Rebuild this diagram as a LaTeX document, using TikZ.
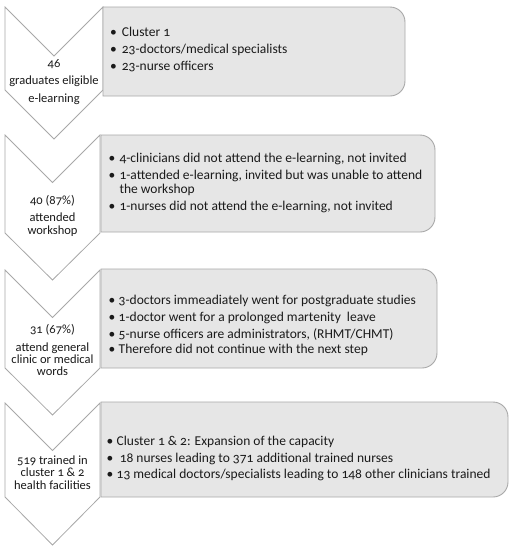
\documentclass[tikz,border=0pt]{standalone}
\usepackage{fontspec}
\setmainfont{Carlito}[Numbers=OldStyle]
\definecolor{boxfill}{HTML}{E6E6E6}
\definecolor{boxline}{HTML}{A8A8A8}
\definecolor{chevline}{HTML}{A8A8A8}
\definecolor{txt}{HTML}{1A1A1A}
\begin{document}
\begin{tikzpicture}[x=1pt,y=-1pt,
  chev/.style={draw=chevline,fill=white,line width=0.8pt,line join=miter},
  infobox/.style={draw=boxline,fill=boxfill,line width=0.9pt},
  chevtext/.style={inner sep=0pt,anchor=mid,text=txt,font=\fontsize{12.5}{14}\selectfont},
  boxtext/.style={inner sep=0pt,anchor=mid west,text=txt,font=\fontsize{13.5}{16}\selectfont},
  bul/.style={inner sep=0pt,anchor=mid,text=txt,font=\fontsize{13.5}{16}\selectfont}]
\useasboundingbox (0,0) rectangle (511,550);
% chevrons
\draw[chev] (5,7) -- (54,56) -- (103,7) -- (103,90) -- (54,139) -- (5,90) -- cycle;
\draw[chev] (5,135) -- (52.5,182.5) -- (100,135) -- (100,233) -- (52.5,280) -- (5,233) -- cycle;
\draw[chev] (5,270) -- (52.5,317.5) -- (100,270) -- (100,368) -- (52.5,415) -- (5,368) -- cycle;
\draw[chev] (5,403) -- (52.5,450.5) -- (100,403) -- (100,497) -- (52.5,545) -- (5,497) -- cycle;
% boxes
\draw[infobox] (103,7) [rounded corners=15] -- (405,7) -- (405,96) [sharp corners] -- (103,96) -- cycle;
\draw[infobox] (101,135) [rounded corners=15] -- (435,135) -- (435,232) [sharp corners] -- (101,232) -- cycle;
\draw[infobox] (101,269) [rounded corners=15] -- (437,269) -- (437,368) [sharp corners] -- (101,368) -- cycle;
\draw[infobox] (101,402) [rounded corners=15] -- (508,402) -- (508,497) [sharp corners] -- (101,497) -- cycle;
% chevron texts
\node[chevtext] (c1a) at (54,65) {46};
\node[chevtext] (c1b) at (54,82) {graduates eligible};
\node[chevtext] (c1c) at (54,100) {e-learning};
\node[chevtext] (c2a) at (52.5,202) {40 (87\%)};
\node[chevtext] (c2b) at (52.5,219) {attended};
\node[chevtext] (c2c) at (52.5,232) {workshop};
\node[chevtext] (c3a) at (52.5,331) {31 (67\%)};
\node[chevtext] (c3b) at (52.5,349) {attend general};
\node[chevtext] (c3c) at (52.5,361) {clinic or medical};
\node[chevtext] (c3d) at (52.5,373) {words};
\node[chevtext] (c4a) at (52.5,462) {519 trained in};
\node[chevtext] (c4b) at (52.5,474.5) {cluster 1 \& 2};
\node[chevtext] (c4c) at (52.5,487) {health facilities};
% box 1
\node[bul] (b1a) at (113.5,34.5) {\textbullet};
\node[boxtext] (t1a) at (121.7,34.5) {Cluster 1};
\node[bul] (b1b) at (113.5,51.5) {\textbullet};
\node[boxtext] (t1b) at (121.7,51.5) {23-doctors/medical specialists};
\node[bul] (b1c) at (113.5,67.7) {\textbullet};
\node[boxtext] (t1c) at (121.7,67.7) {23-nurse officers};
% box 2
\node[bul] (b2a) at (112,160) {\textbullet};
\node[boxtext] (t2a) at (119.3,160) {4-clinicians did not attend the e-learning, not invited};
\node[bul] (b2b) at (112,176.7) {\textbullet};
\node[boxtext] (t2b) at (119.3,176.7) {1-attended e-learning, invited but was unable to attend};
\node[boxtext] (t2c) at (119.3,191) {the workshop};
\node[bul] (b2d) at (112,207.7) {\textbullet};
\node[boxtext] (t2d) at (119.3,207.7) {1-nurses did not attend the e-learning, not invited};
% box 3
\node[bul] (b3a) at (112,302) {\textbullet};
\node[boxtext] (t3a) at (118.5,302) {3-doctors immeadiately went for postgraduate studies};
\node[bul] (b3b) at (112,319) {\textbullet};
\node[boxtext] (t3b) at (118.5,319) {1-doctor went for a prolonged martenity\ \ leave};
\node[bul] (b3c) at (112,335.7) {\textbullet};
\node[boxtext] (t3c) at (118.5,335.7) {5-nurse officers are administrators, (RHMT/CHMT)};
\node[bul] (b3d) at (112,351) {\textbullet};
\node[boxtext] (t3d) at (118.5,351) {Therefore did not continue with the next step};
% box 4
\node[bul] (b4a) at (110,443) {\textbullet};
\node[boxtext] (t4a) at (116.5,443) {Cluster 1 \& 2: Expansion of the capacity};
\node[bul] (b4b) at (110,460) {\textbullet};
\node[boxtext] (t4b) at (116.5,460) {\ 18 nurses leading to 371 additional trained nurses};
\node[bul] (b4c) at (110,476) {\textbullet};
\node[boxtext] (t4c) at (116.5,476) {13 medical doctors/specialists leading to 148 other clinicians trained};
\end{tikzpicture}
\end{document}
